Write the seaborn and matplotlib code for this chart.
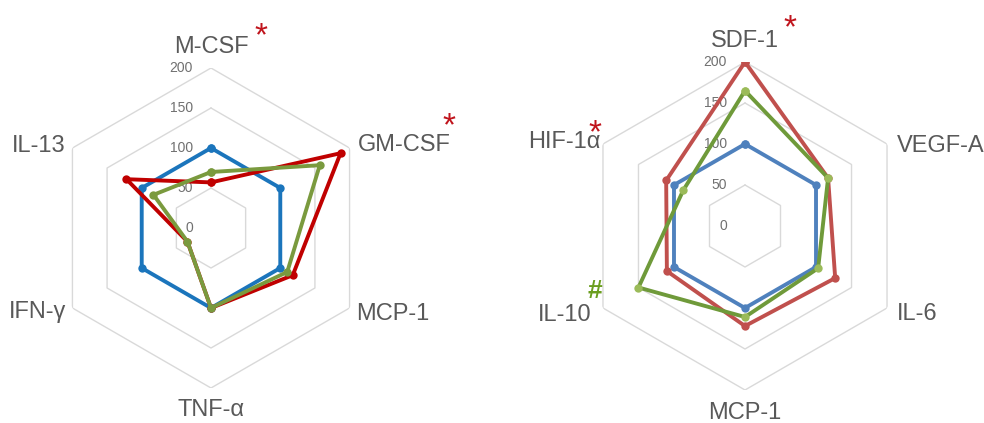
import numpy as np
import matplotlib
matplotlib.use("Agg")
import matplotlib.pyplot as plt
import seaborn as sns

# ---- data -------------------------------------------------------------
left_labels = ["M-CSF", "GM-CSF", "MCP-1", "TNF-α", "IFN-γ", "IL-13"]
left_blue = [100, 100, 100, 100, 100, 100]
left_red = [57, 187, 118, 100, 34, 122]
left_green = [70, 157, 110, 100, 34, 83]

right_labels = ["SDF-1", "VEGF-A", "IL-6", "MCP-1", "IL-10", "HIF-1α"]
right_blue = [100, 100, 100, 100, 100, 100]
right_red = [200, 117, 127, 122, 110, 111]
right_green = [165, 117, 103, 111, 150, 87]

ticks = [0, 50, 100, 150, 200]

# ---- style ------------------------------------------------------------
sns.set_theme(style="white")
plt.rcParams["font.family"] = ["Liberation Sans", "DejaVu Sans"]
LABEL_COLOR = "#595959"
TICK_COLOR = "#707070"
GRID_COLOR = "#d9d9d9"
PX = 0.72  # points per pixel at 100 dpi

fig = plt.figure(figsize=(9.84, 4.23), dpi=100)


def radar(rect, labels, series, label_offsets, marks):
    ax = fig.add_axes(rect, projection="polar")
    ax.set_theta_offset(np.pi / 2)
    ax.set_theta_direction(-1)
    ax.grid(False)
    ax.spines["polar"].set_visible(False)
    ax.set_xticks([])
    ax.set_yticks([])
    ax.patch.set_alpha(0)

    n = len(labels)
    theta = np.linspace(0, 2 * np.pi, n, endpoint=False)
    theta_closed = np.append(theta, 2 * np.pi)

    # hexagonal grid
    for lvl in ticks[1:]:
        ax.plot(theta_closed, [lvl] * (n + 1), color=GRID_COLOR, lw=1.0, zorder=1)

    # radial value labels along the top spoke
    for lvl in ticks:
        ax.annotate(str(lvl), xy=(0, lvl), xytext=(-18 * PX, 0),
                    textcoords="offset points", ha="right", va="center",
                    fontsize=10, color=TICK_COLOR, zorder=2)

    for vals, line_c, mark_c, z in series:
        sns.lineplot(x=theta_closed, y=list(vals) + [vals[0]], sort=False,
                     estimator=None, ax=ax, color=line_c, lw=2.8, marker="o",
                     markersize=6, markeredgewidth=0, markerfacecolor=mark_c,
                     zorder=z)

    ax.set_xlabel("")
    ax.set_ylabel("")
    ax.set_ylim(0, 200)

    for i, name in enumerate(labels):
        dx, dy, ha = label_offsets[i]
        ax.annotate(name, xy=(theta[i], 200), xytext=(dx * PX, -dy * PX),
                    textcoords="offset points", ha=ha, va="baseline",
                    fontsize=17, color=LABEL_COLOR, annotation_clip=False)

    for i, sym, color, size, weight, dx, dy in marks:
        ax.annotate(sym, xy=(theta[i], 200), xytext=(dx * PX, -dy * PX),
                    textcoords="offset points", ha="center", va="baseline",
                    fontsize=size, fontweight=weight, color=color,
                    annotation_clip=False)
    return ax


# left panel: centre (211, 228) px, outer radius 160 px
left_offsets = [(0, -15, "center"), (8, 3, "left"), (7, 12, "left"),
                (0, 28, "center"), (-6, 10, "right"), (-7, 4, "right")]
left_marks = [(0, "*", "#c0141c", 24, "normal", 50, -23),
              (1, "*", "#c0141c", 24, "normal", 99, -13)]
radar([(211 - 160) / 984, (423 - 228 - 160) / 423, 320 / 984, 320 / 423],
      left_labels,
      [(left_blue, "#1b75bc", "#1b75bc", 3),
       (left_red, "#c00000", "#c00000", 4),
       (left_green, "#7a9a3e", "#7a9a3e", 5)],
      left_offsets, left_marks)

# right panel: centre (745, 226) px, outer radius 164 px
right_offsets = [(0, -15, "center"), (10, 7.5, "left"), (10, 12.5, "left"),
                 (0, 29, "center"), (-11, 12.5, "right"), (-2, 3.5, "right")]
right_marks = [(0, "*", "#c0141c", 24, "normal", 45, -25),
               (5, "*", "#c0141c", 24, "normal", -8, -2),
               (4, "#", "#6b9e1f", 19, "bold", -8, -10)]
radar([(745 - 164) / 984, (423 - 226 - 164) / 423, 328 / 984, 328 / 423],
      right_labels,
      [(right_blue, "#4f81bd", "#4f81bd", 3),
       (right_red, "#c0504d", "#c0504d", 4),
       (right_green, "#6f9a3a", "#9bbb59", 5)],
      right_offsets, right_marks)

fig.savefig("out.png", dpi=100, facecolor="white")
